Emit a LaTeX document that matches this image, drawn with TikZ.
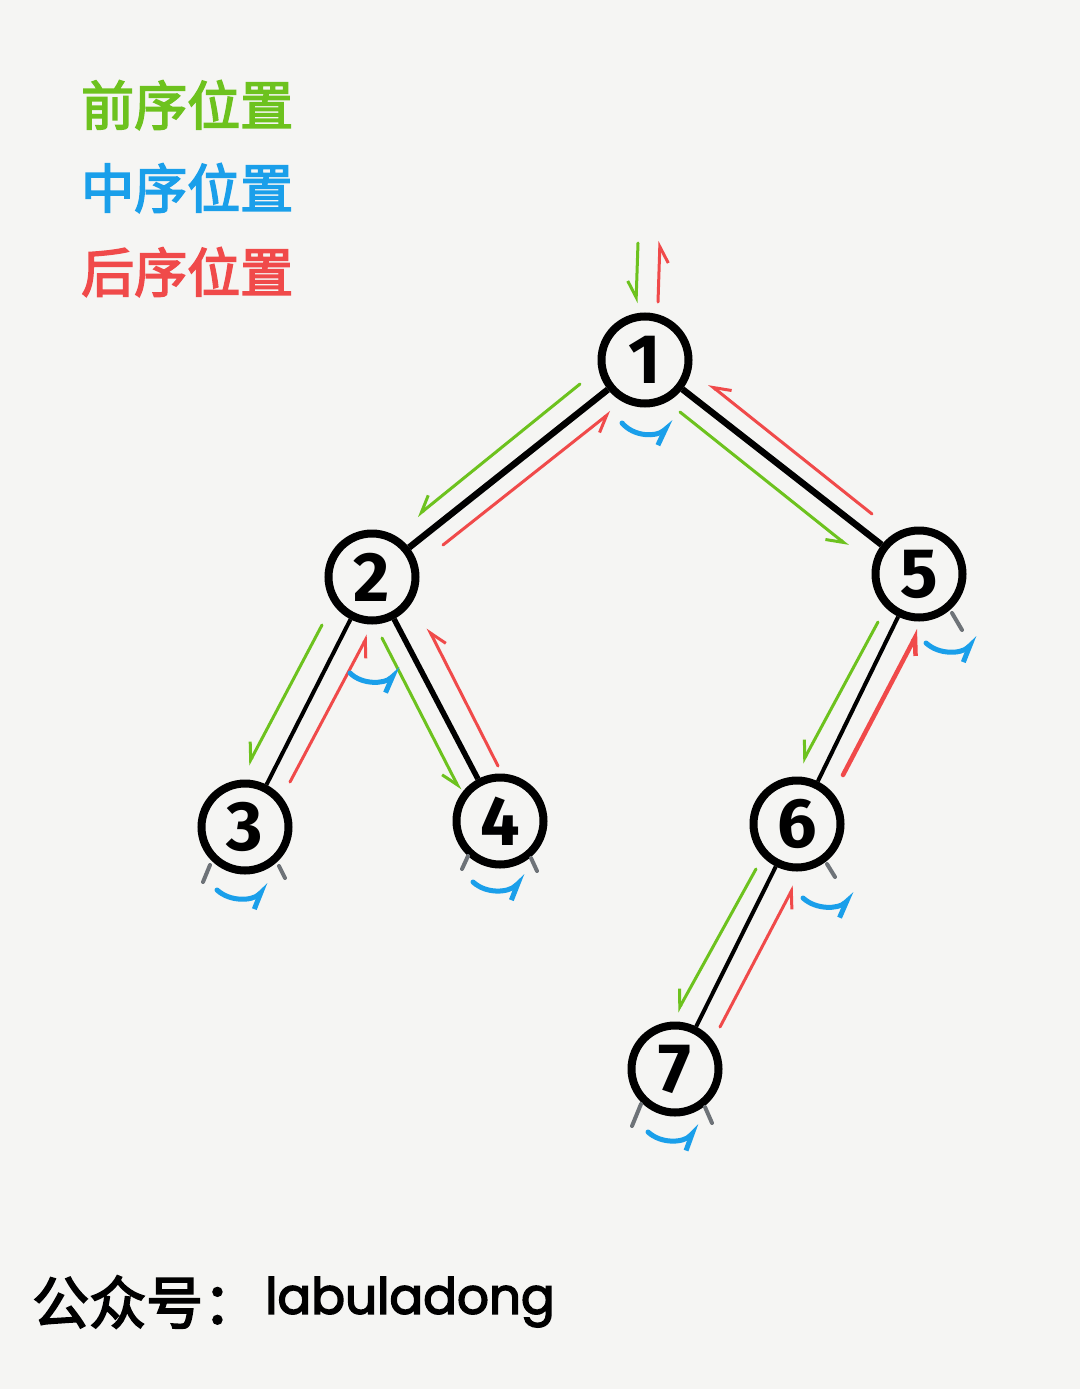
\documentclass[tikz,border=0pt]{standalone}
\usepackage{fontspec}
\usetikzlibrary{arrows.meta}
\newfontfamily\cjkfont{Noto Sans CJK SC}[FakeBold=3]
\newfontfamily\digitfont{Fira Sans}
\newfontfamily\latinfont{Poppins}[FakeBold=3]
\definecolor{pregreen}{HTML}{6DC21E}
\definecolor{inblue}{HTML}{1A9FEA}
\definecolor{postred}{HTML}{F04A4A}
\definecolor{paper}{HTML}{F5F5F3}
\definecolor{stubgray}{HTML}{6E7378}
\begin{document}
\begin{tikzpicture}[x=1pt,y=-1pt,
  tnode/.style={circle,draw=black,line width=8pt,minimum size=87pt,inner sep=0pt,
    font=\digitfont\bfseries\fontsize{70}{70}\selectfont},
  thickedge/.style={draw=black,line width=6.5pt},
  thinedge/.style={draw=black,line width=4pt},
  prearrow/.style={draw=pregreen,line width=3pt,line cap=round,
    -{Straight Barb[harpoon,swap,length=16pt,width=18pt]}},
  postarrow/.style={draw=postred,line width=3pt,line cap=round,
    -{Straight Barb[harpoon,swap,length=16pt,width=18pt]}},
  inarrow/.style={draw=inblue,line width=5pt,line cap=round,
    -{Straight Barb[harpoon,swap,length=16pt,width=15pt]}},
  nullstub/.style={draw=stubgray,line width=4pt,line cap=round},
  legend/.style={anchor=west,inner sep=0pt,font=\cjkfont\fontsize{53}{53}\selectfont}
]
\fill[paper] (0,0) rectangle (1080,1389);
\useasboundingbox (0,0) rectangle (1080,1389);

% legend
\node[legend,text=pregreen] (lpre) at (81,105) {前序位置};
\node[legend,text=inblue] (lin) at (81,188) {中序位置};
\node[legend,text=postred] (lpost) at (81,272) {后序位置};

% tree nodes
\node[tnode] (n1) at (645,360) {1};
\node[tnode] (n2) at (372,577) {2};
\node[tnode] (n5) at (919,574) {5};
\node[tnode] (n3) at (245,827) {3};
\node[tnode] (n4) at (500,821) {4};
\node[tnode] (n6) at (797,824) {6};
\node[tnode] (n7) at (675,1069) {7};

% tree edges
\draw[thickedge] (n1) -- (n2);
\draw[thickedge] (n1) -- (n5);
\draw[thinedge] (n2) -- (n3);
\draw[thickedge,line width=5.5pt] (n2) -- (n4);
\draw[thinedge] (n5) -- (n6);
\draw[thinedge] (n6) -- (n7);

% pre-order (green) and post-order (red) arrows
\coordinate (g0a) at (638,243); \coordinate (g0b) at (636,303);
\coordinate (r0a) at (658,302); \coordinate (r0b) at (660,241);
\draw[prearrow] (g0a) -- (g0b);
\draw[postarrow] (r0a) -- (r0b);

\coordinate (g12a) at (580,384); \coordinate (g12b) at (417,516);
\coordinate (r12a) at (443,545); \coordinate (r12b) at (611,412);
\draw[prearrow] (g12a) -- (g12b);
\draw[postarrow] (r12a) -- (r12b);

\coordinate (g15a) at (680,412); \coordinate (g15b) at (848,546);
\coordinate (r15a) at (872,514); \coordinate (r15b) at (709,384);
\draw[prearrow] (g15a) -- (g15b);
\draw[postarrow] (r15a) -- (r15b);

\coordinate (g23a) at (322,625); \coordinate (g23b) at (248,765);
\coordinate (r23a) at (290,782); \coordinate (r23b) at (368,635);
\draw[prearrow] (g23a) -- (g23b);
\draw[postarrow] (r23a) -- (r23b);

\coordinate (g24a) at (382,638); \coordinate (g24b) at (460,790);
\coordinate (r24a) at (498,766); \coordinate (r24b) at (428,628);
\draw[prearrow] (g24a) -- (g24b);
\draw[postarrow] (r24a) -- (r24b);

\coordinate (g56a) at (878,622); \coordinate (g56b) at (802,763);
\coordinate (r56a) at (843,775); \coordinate (r56b) at (919,630);
\draw[prearrow] (g56a) -- (g56b);
\draw[postarrow,line width=4.5pt] (r56a) -- (r56b);

\coordinate (g67a) at (756,869); \coordinate (g67b) at (677,1012);
\coordinate (r67a) at (720,1027); \coordinate (r67b) at (794,886);
\draw[prearrow] (g67a) -- (g67b);
\draw[postarrow] (r67a) -- (r67b);

% in-order (blue) arrows
\coordinate (b1a) at (622,423); \coordinate (b1b) at (674,422);
\draw[inarrow] (b1a) .. controls (634,437) and (656,437) .. (b1b);
\coordinate (b2a) at (350,673); \coordinate (b2b) at (401,669);
\draw[inarrow] (b2a) .. controls (362,685) and (384,684) .. (b2b);
\coordinate (b3a) at (217,890); \coordinate (b3b) at (269,885);
\draw[inarrow] (b3a) .. controls (230,902) and (252,901) .. (b3b);
\coordinate (b4a) at (473,882); \coordinate (b4b) at (526,876);
\draw[inarrow] (b4a) .. controls (486,894) and (508,893) .. (b4b);
\coordinate (b5a) at (926,643); \coordinate (b5b) at (978,638);
\draw[inarrow] (b5a) .. controls (939,655) and (961,654) .. (b5b);
\coordinate (b6a) at (803,898); \coordinate (b6b) at (855,894);
\draw[inarrow] (b6a) .. controls (816,910) and (838,909) .. (b6b);
\coordinate (b7a) at (648,1132); \coordinate (b7b) at (700,1126);
\draw[inarrow] (b7a) .. controls (661,1144) and (683,1143) .. (b7b);

% null-child stubs
\coordinate (s3a) at (210,865); \coordinate (s3b) at (203,882);
\coordinate (s3c) at (279,866); \coordinate (s3d) at (285,878);
\draw[nullstub] (s3a) -- (s3b); \draw[nullstub] (s3c) -- (s3d);
\coordinate (s4a) at (468,856); \coordinate (s4b) at (462,869);
\coordinate (s4c) at (531,858); \coordinate (s4d) at (537,871);
\draw[nullstub] (s4a) -- (s4b); \draw[nullstub] (s4c) -- (s4d);
\coordinate (s5a) at (952,613); \coordinate (s5b) at (962,630);
\draw[nullstub] (s5a) -- (s5b);
\coordinate (s6a) at (827,864); \coordinate (s6b) at (835,877);
\draw[nullstub] (s6a) -- (s6b);
\coordinate (s7a) at (641,1104); \coordinate (s7b) at (632,1126);
\coordinate (s7c) at (705,1107); \coordinate (s7d) at (712,1123);
\draw[nullstub] (s7a) -- (s7b); \draw[nullstub] (s7c) -- (s7d);

% footer
\node[anchor=west,inner sep=0pt,font=\cjkfont\fontsize{57}{57}\selectfont] (foot1) at (32,1302) {公众号：};
\node[anchor=west,inner sep=0pt,font=\latinfont\fontsize{50}{50}\selectfont] (foot2) at (265,1302) {labuladong};
\end{tikzpicture}
\end{document}
